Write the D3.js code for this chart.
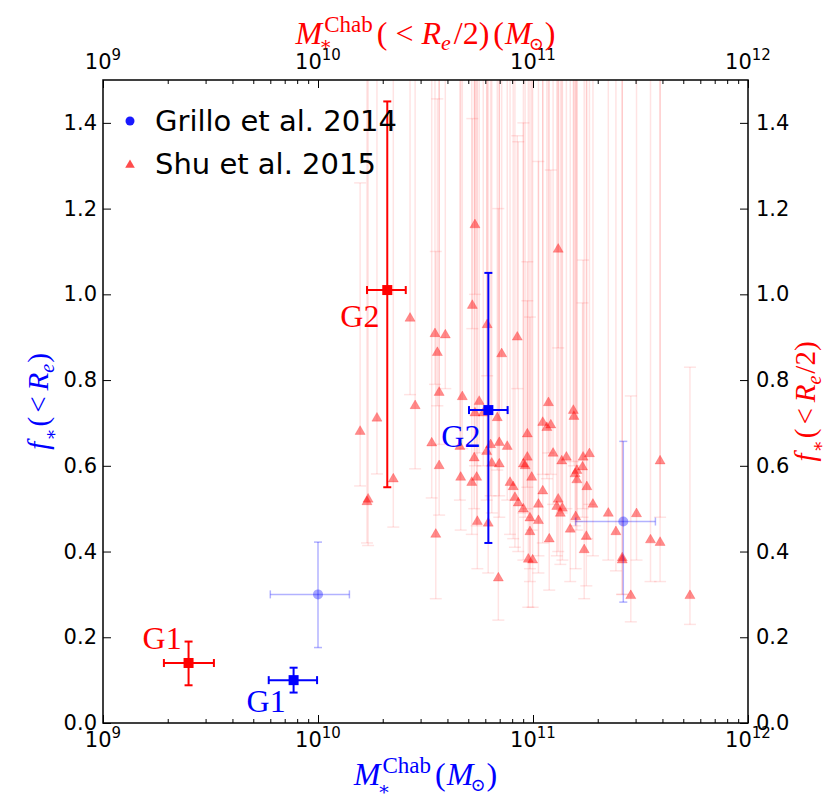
<!DOCTYPE html>
<html>
<head>
<meta charset="utf-8">
<script src="https://cdn.jsdelivr.net/npm/d3@7"></script>
<style>
body { margin: 0; background: #fff; }
</style>
</head>
<body>
<div id="chart"></div>
<script>
// Shu et al. 2015 lenses: stellar mass (1e10 Msun), f* and the lower / upper ends of its error bar
const shuMass = [1.57,1.69,1.71,1.88,2.24,2.68,2.83,3.38,3.50,3.53,
    3.59,3.66,3.66,3.91,4.57,4.61,4.69,5.19,5.22,5.33,
    5.37,5.37,5.47,5.51,5.62,5.87,6.09,6.12,6.19,6.35,
    6.43,6.82,6.90,6.97,6.97,7.15,7.59,7.82,8.09,8.24,
    8.45,8.54,9.02,9.02,9.19,9.41,9.41,9.51,9.68,9.68,
    9.86,9.96,10.6,10.6,11.1,11.1,11.6,11.8,11.9,12.1,
    12.4,12.9,13.1,13.1,13.4,13.6,13.7,14.3,14.9,15.4,
    15.5,15.7,15.8,16.0,16.0,17.0,17.1,17.3,17.7,17.8,
    18.3,19.0,22.4,24.3,26.0,26.0,28.5,30.3,35.2,39.0,
    39.0,53.7];
const shuF = [0.680,0.516,0.522,0.711,0.569,0.944,0.740,0.653,0.908,0.440,
    0.864,0.771,0.600,0.905,0.645,0.573,0.761,0.561,0.974,0.618,
    1.162,0.723,0.573,0.470,0.750,0.723,0.633,0.929,0.466,0.649,
    0.606,0.712,0.338,0.654,0.604,0.861,0.645,0.561,0.551,0.526,
    0.900,0.513,0.499,0.604,0.600,0.674,0.620,0.382,0.478,0.446,
    0.573,0.380,0.510,0.472,0.701,0.541,0.689,0.747,0.429,0.695,
    0.629,0.505,0.522,1.105,0.489,0.611,0.501,0.620,0.452,0.729,
    0.715,0.581,0.481,0.567,0.589,0.597,0.620,0.404,0.435,0.551,
    0.628,0.510,0.489,0.446,0.380,0.385,0.297,0.488,0.427,0.611,
    0.421,0.297];
const shuLo = [0.553,0.42,0.414,0.581,0.457,0.766,0.593,0.525,0.79,0.29,
    0.74,0.65,0.485,0.78,0.52,0.45,0.64,0.44,0.92,0.50,
    1.0,0.60,0.46,0.36,0.63,0.60,0.52,0.81,0.35,0.53,
    0.49,0.59,0.24,0.53,0.48,0.73,0.52,0.44,0.43,0.41,
    0.78,0.40,0.38,0.49,0.48,0.55,0.50,0.27,0.36,0.33,
    0.45,0.27,0.39,0.35,0.58,0.42,0.57,0.63,0.31,0.58,
    0.51,0.39,0.40,0.875,0.37,0.49,0.38,0.50,0.33,0.61,
    0.60,0.46,0.36,0.45,0.47,0.48,0.50,0.29,0.32,0.43,
    0.51,0.39,0.38,0.355,0.30,0.30,0.236,0.38,0.33,0.48,
    0.33,0.23];
const shuHi = [1.26,1.9,1.7,2.0,1.8,2.2,1.65,1.9,2.1,1.10,
    1.456,2.3,1.7,2.0,1.9,1.6,2.1,1.75,1.41,1.9,
    2.5,1.8,1.7,1.6,2.0,1.9,1.7,2.2,1.6,1.8,
    1.9,2.0,1.2,1.7,1.9,2.1,1.8,1.7,1.9,1.6,
    1.37,1.356,1.40,2.0,1.9,1.076,0.985,1.7,1.9,0.947,
    2.0,1.8,1.31,1.9,2.1,1.8,1.9,2.0,1.6,1.29,
    1.8,1.7,1.9,2.4,1.8,2.0,1.7,1.9,1.6,2.1,
    1.8,1.9,1.7,1.8,2.0,0.98,1.08,1.6,1.8,1.9,
    2.0,1.7,1.8,1.9,1.7,1.6,0.763,1.8,1.9,2.0,
    1.8,0.83];

// Grillo et al. 2014 (1e10 Msun)
const grilloMass = [1.0, 26.3];
const grilloMassLo = [0.6, 15.8];
const grilloMassHi = [1.4, 37.1];
const grilloF = [0.30, 0.47];
const grilloFLo = [0.176, 0.282];
const grilloFHi = [0.422, 0.657];

// G1 / G2: blue = total, red = within Re/2 (1e10 Msun)
const galaxyNames = ['G1', 'G2'];
const blueMass = [0.77, 6.2];
const blueMassLo = [0.59, 5.04];
const blueMassHi = [0.99, 7.62];
const blueF = [0.10, 0.73];
const blueFLo = [0.071, 0.42];
const blueFHi = [0.129, 1.05];
const redMass = [0.25, 2.1];
const redMassLo = [0.192, 1.69];
const redMassHi = [0.328, 2.56];
const redF = [0.14, 1.01];
const redFLo = [0.088, 0.55];
const redFHi = [0.19, 1.45];

const xMajor = [1e9, 1e10, 1e11, 1e12];
const yTicks = [0, 0.2, 0.4, 0.6, 0.8, 1.0, 1.2, 1.4];

const width = 831, height = 804;
const margin = { top: 80, right: 83, bottom: 81, left: 103 };
const serif = '"Liberation Serif", "DejaVu Serif", serif';
const sans = '"DejaVu Sans", sans-serif';
const BLUE = '#0000ff', RED = '#ff0000';

const svg = d3.select('#chart').append('svg')
    .attr('width', width)
    .attr('height', height);

const x = d3.scaleLog().domain([1e9, 1e12]).range([margin.left, width - margin.right]);
const y = d3.scaleLinear().domain([0, 1.5]).range([height - margin.bottom, margin.top]);
const E10 = 1e10;

svg.append('clipPath').attr('id', 'plot')
    .append('rect')
    .attr('x', margin.left).attr('y', margin.top)
    .attr('width', width - margin.left - margin.right)
    .attr('height', height - margin.top - margin.bottom);

const plot = svg.append('g').attr('clip-path', 'url(#plot)');

// error bar: vertical between ys, optional horizontal between xs, with caps
const errorBar = (g, cx, cy, xs, ys, cap, color, sw, op) => {
    const e = g.append('g').attr('stroke', color).attr('stroke-width', sw).attr('stroke-opacity', op);
    if (ys) {
        e.append('line').attr('x1', cx).attr('x2', cx).attr('y1', ys[0]).attr('y2', ys[1]);
        ys.forEach(v => e.append('line').attr('x1', cx - cap).attr('x2', cx + cap).attr('y1', v).attr('y2', v));
    }
    if (xs) {
        e.append('line').attr('x1', xs[0]).attr('x2', xs[1]).attr('y1', cy).attr('y2', cy);
        xs.forEach(v => e.append('line').attr('x1', v).attr('x2', v).attr('y1', cy - cap).attr('y2', cy + cap));
    }
};

// Shu et al. error bars then triangles
const shu = shuMass.map((m, i) => ({ m: m * E10, f: shuF[i], lo: shuLo[i], hi: shuHi[i] }));
const shuBars = plot.append('g');
shu.forEach(d => errorBar(shuBars, x(d.m), y(d.f), null, [y(d.lo), y(d.hi)], 6, RED, 1.5, 0.11));

const tri = d3.symbol(d3.symbolTriangle, 44);
plot.append('g').selectAll('path')
    .data(shu)
    .enter().append('path')
    .attr('d', tri)
    .attr('transform', d => `translate(${x(d.m)},${y(d.f)})`)
    .attr('fill', RED)
    .attr('fill-opacity', 0.45)
    .attr('stroke', RED)
    .attr('stroke-opacity', 0.25)
    .attr('stroke-width', 0.8);

// Grillo et al. points
grilloMass.forEach((m, i) => {
    const cx = x(m * E10), cy = y(grilloF[i]);
    errorBar(plot, cx, cy, [x(grilloMassLo[i] * E10), x(grilloMassHi[i] * E10)],
        [y(grilloFLo[i]), y(grilloFHi[i])], 4, BLUE, 1.5, 0.3);
    plot.append('circle').attr('cx', cx).attr('cy', cy).attr('r', 5)
        .attr('fill', BLUE).attr('fill-opacity', 0.35);
});

// G1 / G2 squares
const drawSquares = (mass, mLo, mHi, f, fLo, fHi, color) => {
    mass.forEach((m, i) => {
        const cx = x(m * E10), cy = y(f[i]);
        errorBar(plot, cx, cy, [x(mLo[i] * E10), x(mHi[i] * E10)], [y(fLo[i]), y(fHi[i])], 4, color, 2, 1);
        plot.append('rect').attr('x', cx - 5).attr('y', cy - 5).attr('width', 10).attr('height', 10)
            .attr('fill', color);
    });
};
drawSquares(redMass, redMassLo, redMassHi, redF, redFLo, redFHi, RED);
drawSquares(blueMass, blueMassLo, blueMassHi, blueF, blueFLo, blueFHi, BLUE);

// name labels next to each square
const labelOffset = { red: [[-46, -14], [-47, 37]], blue: [[-47, 32], [-47, 37]] };
galaxyNames.forEach((name, i) => {
    [['red', redMass, redF, RED], ['blue', blueMass, blueF, BLUE]].forEach(([k, ms, fs, c]) => {
        const [dx, dy] = labelOffset[k][i];
        svg.append('text')
            .attr('x', x(ms[i] * E10) + dx).attr('y', y(fs[i]) + dy)
            .style('font-family', serif).style('font-size', '32px')
            .attr('fill', c).text(name);
    });
});

// axes: inward ticks on all four sides
const xMinor = [];
[1e9, 1e10, 1e11].forEach(d => d3.range(2, 10).forEach(k => xMinor.push(k * d)));

const tickAxis = (axis, tr, size, vals) => svg.append('g')
    .attr('transform', tr)
    .call(axis.tickValues(vals).tickSize(-size).tickSizeOuter(0).tickFormat(''))
    .call(g => g.select('.domain').remove())
    .call(g => g.selectAll('line').attr('stroke', '#000').attr('stroke-width', 1));

const bottomY = height - margin.bottom, rightX = width - margin.right;
tickAxis(d3.axisBottom(x), `translate(0,${bottomY})`, 8, xMajor);
tickAxis(d3.axisBottom(x), `translate(0,${bottomY})`, 4, xMinor);
tickAxis(d3.axisTop(x), `translate(0,${margin.top})`, 8, xMajor);
tickAxis(d3.axisTop(x), `translate(0,${margin.top})`, 4, xMinor);
tickAxis(d3.axisLeft(y), `translate(${margin.left},0)`, 8, yTicks);
tickAxis(d3.axisRight(y), `translate(${rightX},0)`, 8, yTicks);

svg.append('rect')
    .attr('x', margin.left).attr('y', margin.top)
    .attr('width', rightX - margin.left).attr('height', bottomY - margin.top)
    .attr('fill', 'none').attr('stroke', '#000').attr('stroke-width', 1.5);

// power-of-ten tick labels
const powLabel = (v, baseline) => {
    const t = svg.append('text')
        .attr('x', x(v)).attr('y', baseline)
        .attr('text-anchor', 'middle')
        .style('font-family', sans).style('font-size', '21px');
    t.append('tspan').text('10');
    t.append('tspan').attr('dy', -9).style('font-size', '15px').text(Math.round(Math.log10(v)));
};
xMajor.forEach(v => { powLabel(v, 747); powLabel(v, 69); });

const fmt = d3.format('.1f');
yTicks.forEach(v => {
    svg.append('text').attr('x', margin.left - 6).attr('y', y(v) + 7)
        .attr('text-anchor', 'end')
        .style('font-family', sans).style('font-size', '21px').text(fmt(v));
    svg.append('text').attr('x', rightX + 8).attr('y', y(v) + 7)
        .style('font-family', sans).style('font-size', '21px').text(fmt(v));
});

// math-style axis titles built from pieces
const mathLabel = (parts, size, color) => {
    const g = svg.append('g').attr('fill', color);
    let cursor = 0, lastStart = 0;
    parts.forEach(p => {
        const start = (p.stack ? lastStart : cursor) + (p.dx || 0);
        const t = g.append('text')
            .attr('x', start).attr('y', p.dy || 0)
            .style('font-family', serif)
            .style('font-size', (p.s || size) + 'px')
            .style('font-style', p.it ? 'italic' : 'normal')
            .text(p.t);
        const w = t.node().getComputedTextLength();
        if (!p.stack) lastStart = start;
        cursor = Math.max(cursor, start + w);
    });
    return { g, w: cursor };
};

const mStar = (subDy) => [
    { t: 'M', it: true },
    { t: '∗', s: 19, dy: subDy, dx: -3 },
    { t: 'Chab', s: 23, dy: -12, stack: true, dx: 5 }
];
const mSun = [
    { t: '(', dx: 4 },
    { t: 'M', it: true, dx: 1 },
    { t: '⊙', s: 18, dy: 6, dx: -3 },
    { t: ')', dx: 1 }
];

const bottomLabel = mathLabel([...mStar(10), ...mSun], 32, BLUE);
bottomLabel.g.attr('transform', `translate(${(margin.left + rightX) / 2 - bottomLabel.w / 2},785)`);

const topLabel = mathLabel([...mStar(6),
    { t: '(', dx: 4 }, { t: '<', dx: 8 }, { t: 'R', it: true, dx: 8 },
    { t: 'e', it: true, s: 22, dy: 6 }, { t: '/2)', dx: 3 }, ...mSun], 32, RED);
topLabel.g.attr('transform', `translate(${(margin.left + rightX) / 2 - topLabel.w / 2},44)`);

const fStar = [
    { t: 'f', it: true },
    { t: '∗', s: 18, dy: 9, dx: 1 },
    { t: '(', dx: 2 }, { t: '<', dx: 4 }, { t: 'R', it: true, dx: 6 },
    { t: 'e', it: true, s: 20, dy: 6 }
];
const midY = (margin.top + bottomY) / 2;
const leftLabel = mathLabel([...fStar, { t: ')', dx: 1 }], 29, BLUE);
leftLabel.g.attr('transform', `translate(48,${midY}) rotate(-90) translate(${-leftLabel.w / 2},0)`);
const rightLabel = mathLabel([...fStar, { t: '/2)', dx: 2 }], 29, RED);
rightLabel.g.attr('transform', `translate(815,${midY}) rotate(-90) translate(${-rightLabel.w / 2},0)`);

// legend
const legend = svg.append('g');
legend.append('circle').attr('cx', 130).attr('cy', 121).attr('r', 4.5).attr('fill', BLUE).attr('fill-opacity', 0.9);
legend.append('path').attr('d', d3.symbol(d3.symbolTriangle, 40))
    .attr('transform', 'translate(130,165)').attr('fill', RED).attr('fill-opacity', 0.7);
legend.append('text').attr('x', 155).attr('y', 131)
    .style('font-family', sans).style('font-size', '29px').text('Grillo et al. 2014');
legend.append('text').attr('x', 155).attr('y', 174)
    .style('font-family', sans).style('font-size', '29px').text('Shu et al. 2015');
</script>
</body>
</html>
